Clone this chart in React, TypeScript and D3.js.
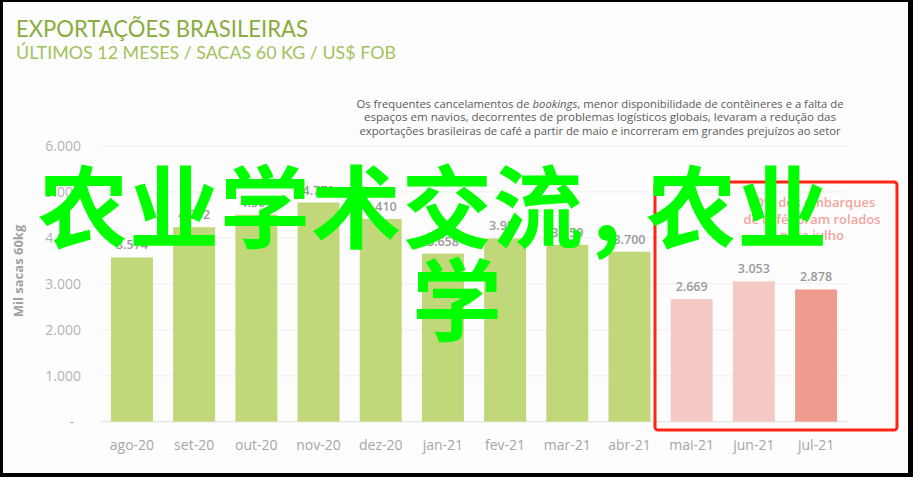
import { useEffect, useRef } from "react";
import * as d3 from "d3";

// últimos 12 meses, mil sacas de 60 kg
const months = [
  "ago-20", "set-20", "out-20", "nov-20", "dez-20", "jan-21",
  "fev-21", "mar-21", "abr-21", "mai-21", "jun-21", "jul-21",
];
const volumes = [3574, 4232, 4504, 4770, 4410, 3658, 3987, 3850, 3700, 2669, 3053, 2878];
const delayedMonths = ["mai-21", "jun-21", "jul-21"];
const yTicks = [0, 1000, 2000, 3000, 4000, 5000, 6000];

const noteLines = [
  ["Os frequentes cancelamentos de ", "bookings", ", menor disponibilidade de contêineres e a falta de"],
  ["espaços em navios, decorrentes de problemas logísticos globais, levaram a redução das"],
  ["exportações brasileiras de café a partir de maio e incorreram em grandes prejuízos ao setor"],
];
const calloutLines = ["50% dos embarques", "de café foram rolados", "para julho"];
const watermark = ["农业学术交流", ",", "农业"];

const W = 913;
const H = 477;

const App = () => {
  const svgRef = useRef<SVGSVGElement>(null);

  useEffect(() => {
    if (!svgRef.current) return;
    const svg = d3.select(svgRef.current);
    const font = "'Open Sans', 'DejaVu Sans', sans-serif";

    const br = d3.formatLocale({ decimal: ",", thousands: ".", grouping: [3], currency: ["R$", ""] });
    const fmt = br.format(",d");

    const x = d3.scaleBand<string>().domain(months).range([101, 847]).paddingInner(0.325).paddingOuter(0.16);
    const y = d3.scaleLinear().domain([0, 6000]).range([421.7, 146]);

    // frame
    svg.append("rect").attr("width", W).attr("height", H).attr("fill", "#000");
    svg.append("rect").attr("x", 3).attr("y", 2).attr("width", 905).attr("height", 471).attr("fill", "#fdfdfd");

    // titles
    svg.append("text").attr("x", 16).attr("y", 36.5).attr("font-family", "Lato, sans-serif")
      .attr("font-size", 23).attr("fill", "#8aac3e").attr("textLength", 292).attr("lengthAdjust", "spacingAndGlyphs")
      .text("EXPORTAÇÕES BRASILEIRAS");
    svg.append("text").attr("x", 16).attr("y", 58.5).attr("font-family", "Lato, sans-serif")
      .attr("font-size", 17).attr("fill", "#a2c25c").attr("textLength", 380).attr("lengthAdjust", "spacingAndGlyphs")
      .text("ÚLTIMOS 12 MESES / SACAS 60 KG / US$ FOB");

    // note
    const noteLens = [487, 472, 481];
    noteLines.forEach((parts, i) => {
      const t = svg.append("text").attr("x", 600).attr("y", 107.5 + i * 13.5).attr("text-anchor", "middle")
        .attr("font-family", font).attr("font-size", 10.5).attr("fill", "#5a5a5a")
        .attr("textLength", noteLens[i]).attr("lengthAdjust", "spacingAndGlyphs");
      parts.forEach((p) => t.append("tspan").attr("font-style", p === "bookings" ? "italic" : null).text(p));
    });

    // grid
    svg.append("g").selectAll("line").data(yTicks).join("line")
      .attr("x1", 101).attr("x2", 847).attr("y1", (d) => y(d)).attr("y2", (d) => y(d))
      .attr("stroke", (d) => (d === 0 ? "#dedede" : "#efefef")).attr("stroke-width", 1);

    // y axis labels
    svg.append("g").selectAll("text").data(yTicks).join("text")
      .attr("x", (d) => (d === 0 ? 74 : 81)).attr("y", (d) => y(d) + 5).attr("text-anchor", "end")
      .attr("font-family", font).attr("font-size", 14).attr("fill", "#b3b3b3")
      .text((d) => (d === 0 ? "-" : fmt(d)));

    svg.append("text").attr("transform", "translate(23,271) rotate(-90)").attr("text-anchor", "middle")
      .attr("font-family", font).attr("font-size", 13).attr("font-weight", "bold").attr("fill", "#a0a0a0")
      .text("Mil sacas 60kg");

    // bars
    const barColor = (m: string) =>
      m === "jul-21" ? "#ef9b8e" : delayedMonths.includes(m) ? "#f6cac4" : "#c0d77a";
    svg.append("g").selectAll("rect").data(months).join("rect")
      .attr("x", (d) => x(d)!).attr("width", x.bandwidth())
      .attr("y", (_, i) => y(volumes[i])).attr("height", (_, i) => y(0) - y(volumes[i]))
      .attr("fill", (d) => barColor(d));

    svg.append("g").selectAll("text").data(months).join("text")
      .attr("x", (d) => x(d)! + x.bandwidth() / 2).attr("y", (_, i) => y(volumes[i]) - 8)
      .attr("text-anchor", "middle").attr("font-family", font).attr("font-size", 12.5).attr("font-weight", 600)
      .attr("fill", "#9a9a9a").text((_, i) => fmt(volumes[i]));

    // x axis labels
    svg.append("g").selectAll("text").data(months).join("text")
      .attr("x", (d) => x(d)! + x.bandwidth() / 2).attr("y", 450).attr("text-anchor", "middle")
      .attr("font-family", font).attr("font-size", 14).attr("fill", "#a6a6a6").text((d) => d);

    // callout
    svg.append("rect").attr("x", 655).attr("y", 182).attr("width", 242).attr("height", 248).attr("rx", 3)
      .attr("fill", "none").attr("stroke", "#ff2415").attr("stroke-width", 3);
    calloutLines.forEach((l, i) => {
      svg.append("text").attr("x", 812).attr("y", 207 + i * 16.5).attr("text-anchor", "middle")
        .attr("font-family", font).attr("font-size", 13).attr("font-weight", 600).attr("fill", "#f3a59d").text(l);
    });

    // watermark
    const cjk = "'Noto Sans CJK SC', sans-serif";
    const wm = svg.append("text").attr("x", 38).attr("y", 241).attr("font-family", cjk).attr("font-size", 90)
      .attr("font-weight", "bold").attr("fill", "#00ff00").attr("letter-spacing", 1);
    wm.append("tspan").text(watermark[0]);
    wm.append("tspan").attr("dx", 8).text(watermark[1]);
    wm.append("tspan").attr("dx", 24).text(watermark[2]);
    svg.append("text").attr("x", 412).attr("y", 334).attr("font-family", cjk).attr("font-size", 90)
      .attr("font-weight", "bold").attr("fill", "#00ff00").text("学");

    return () => {
      svg.selectAll("*").remove();
    };
  }, []);

  return (
    <svg ref={svgRef} width={W} height={H} style={{ position: "absolute", left: 0, top: 0 }} />
  );
};

export default App;
